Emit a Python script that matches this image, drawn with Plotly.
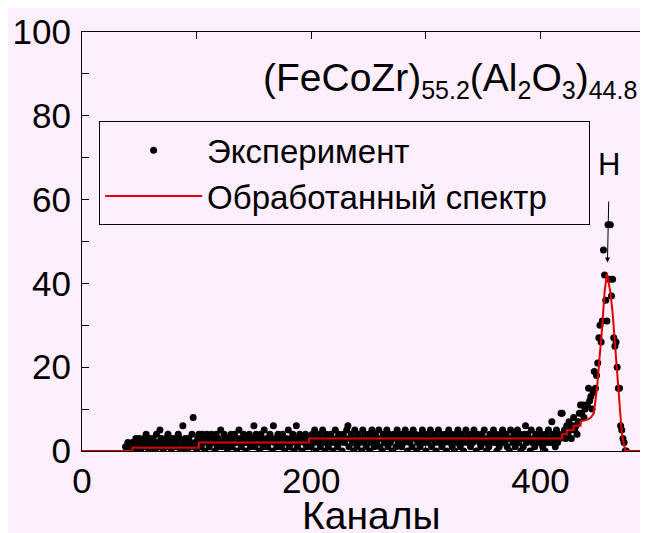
import plotly.graph_objects as go

# ---------------- data ----------------
channel_start = 38
counts = [
    # 38-44
    1, 0, 2, 1, 0, 1, 2,
    # 45-102
    2, 0, 3, 1, 2, 3, 0, 2, 1, 3,
    2, 4, 1, 0, 3, 2, 1, 3, 2, 0,
    4, 2, 1, 5, 3, 2, 0, 1, 3, 2,
    4, 1, 2, 0, 3, 1, 2, 3, 1, 4,
    3, 0, 2, 6, 1, 3, 2, 0, 3, 1,
    2, 4, 8, 1, 2, 0, 3, 4,
    # 103-198
    3, 1, 4, 2, 0, 3, 4, 2, 1, 3,
    4, 2, 3, 0, 4, 1, 3, 2, 5, 1,
    2, 4, 3, 1, 0, 3, 2, 4, 1, 3,
    4, 2, 0, 3, 5, 2, 1, 3, 4, 2,
    0, 3, 2, 4, 1, 3, 2, 6, 1, 4,
    3, 2, 0, 4, 3, 1, 5, 2, 3, 1,
    2, 4, 3, 0, 6, 2, 3, 1, 4, 2,
    3, 1, 4, 2, 0, 3, 2, 5, 1, 3,
    2, 4, 0, 3, 6, 1, 2, 4, 3, 0,
    3, 2, 4, 1, 3, 2,
    # 199-420
    3, 1, 4, 2, 5, 0, 3, 2, 4, 1,
    3, 5, 2, 0, 4, 3, 1, 2, 4, 3,
    0, 2, 5, 3, 1, 4, 2, 3, 0, 4,
    2, 3, 5, 6, 1, 3, 4, 2, 0, 5,
    3, 1, 4, 2, 3, 0, 5, 2, 4, 1,
    3, 4, 0, 2, 5, 3, 1, 4, 2, 3,
    5, 1, 3, 0, 4, 2, 3, 5, 1, 4,
    2, 3, 0, 4, 3, 1, 5, 2, 4, 3,
    1, 4, 2, 5, 3, 0, 4, 2, 3, 1,
    5, 3, 4, 0, 2, 3, 1, 4, 5, 2,
    3, 0, 4, 2, 3, 5, 1, 3, 4, 2,
    0, 3, 5, 2, 4, 1, 3, 2, 4, 0,
    3, 5, 2, 4, 1, 3, 0, 4, 2, 5,
    3, 1, 4, 2, 0, 3, 5, 2, 4, 3,
    1, 4, 2, 5, 3, 0, 4, 3, 2, 1,
    4, 3, 5, 2, 0, 3, 1, 4, 2, 3,
    5, 2, 4, 0, 3, 1, 4, 2, 5, 3,
    2, 4, 1, 3, 0, 5, 3, 2, 4, 1,
    3, 5, 2, 4, 0, 3, 1, 4, 6, 2,
    4, 3, 0, 5, 2, 3, 1, 4, 2, 3,
    5, 2, 4, 1, 3, 0, 4, 2, 5, 3,
    2, 7, 4, 3, 1, 5, 2, 4, 3, 9,
    9, 4,
    # 421-440
    5, 3, 6, 4, 7, 5, 3, 6, 8, 5,
    6, 4, 7, 9, 11, 9, 11, 8, 10, 11,
    # 441-475
    11, 15, 12, 13, 10, 14, 19, 15, 18, 21,
    27, 30, 26, 31, 48, 42, 36, 31, 54, 41,
    54, 37, 41, 27, 25, 26, 20, 15, 15, 6,
    5, 3, 2, 0, 0,
]
channels = list(range(channel_start, channel_start + len(counts)))

fit_x = [0, 44, 44, 102, 102, 198, 198, 419, 419, 423, 423, 429, 429, 435, 435,
         439, 442, 444, 446.6, 449.5, 451, 454, 456, 458, 459, 461, 463, 464,
         466, 468, 471, 474, 500]
fit_y = [0, 0, 0.8, 0.8, 2, 2, 3, 3, 4, 4, 5, 5, 6, 6, 7,
         7.4, 7.6, 8, 9, 15.3, 20, 30, 38, 42.3, 41, 38, 33, 29.5,
         21, 13.7, 4.3, 0, 0]

x_ticks = [0, 200, 400]
y_ticks = [0, 20, 40, 60, 80, 100]
peak_channel = 458.5
peak_arrow_tip = 45

legend_names = ["Эксперимент", "Обработанный спектр"]
x_title = "Каналы"
SUB = "<sub><span style='font-size:25px'>{}</span></sub>"
sample_label = ("(FeCoZr)" + SUB.format("55.2") + "(Al" + SUB.format("2") + "O"
                + SUB.format("3") + ")" + SUB.format("44.8"))

# ---------------- figure ----------------
BG = "#FDEFFD"
FONT = "Liberation Sans, Arial, sans-serif"
PAD = "\u00a0" * 4  # extra room at the right of the legend box

fig = go.Figure()
fig.add_trace(go.Scatter(
    x=channels, y=counts, mode="markers", name=legend_names[0],
    marker=dict(color="black", size=7),
))
fig.add_trace(go.Scatter(
    x=fit_x, y=fit_y, mode="lines", name=legend_names[1] + PAD,
    line=dict(color="#E00000", width=2),
))

fig.add_annotation(
    x=peak_channel, y=peak_arrow_tip, xref="x", yref="y",
    text="H", showarrow=True, ax=2, ay=-98,
    arrowhead=2, arrowsize=1, arrowwidth=1, arrowcolor="black",
    borderpad=19, font=dict(family=FONT, size=31, color="black"),
)
fig.add_annotation(
    x=0.315, y=0.885, xref="paper", yref="paper", xanchor="left", yanchor="middle",
    text=sample_label, showarrow=False,
    font=dict(family=FONT, size=39, color="black"),
)
fig.add_annotation(
    x=0.508, y=0, xref="paper", yref="paper", xanchor="center", yanchor="top",
    yshift=-41, text=x_title, showarrow=False,
    font=dict(family=FONT, size=39, color="black"),
)

axis_common = dict(
    showline=True, linecolor="black", linewidth=1, mirror="allticks",
    ticks="inside", ticklen=7, tickcolor="black", tickwidth=1,
    showgrid=False, zeroline=False,
    tickfont=dict(family=FONT, size=35, color="black"),
)

fig.update_xaxes(
    range=[0, 496.5], tickvals=x_ticks,
    minor=dict(dtick=100, ticks="inside", ticklen=7, tickcolor="black", showgrid=False),
    ticklabelstandoff=-1,
    **axis_common,
)
fig.update_yaxes(
    range=[0, 100], tickvals=y_ticks,
    minor=dict(dtick=10, ticks="inside", ticklen=7, tickcolor="black", showgrid=False),
    ticklabelstandoff=3,
    **axis_common,
)

fig.update_layout(
    width=648, height=533,
    margin=dict(l=74, r=4, t=21, b=90),
    paper_bgcolor=BG, plot_bgcolor=BG,
    font=dict(family=FONT, color="black"),
    legend=dict(
        x=0.03, y=0.787, xanchor="left", yanchor="top",
        bgcolor=BG, bordercolor="black", borderwidth=1,
        font=dict(family=FONT, size=33, color="black"),
        itemwidth=97, tracegroupgap=0,
    ),
    showlegend=True,
)

fig.write_html("out.html")
